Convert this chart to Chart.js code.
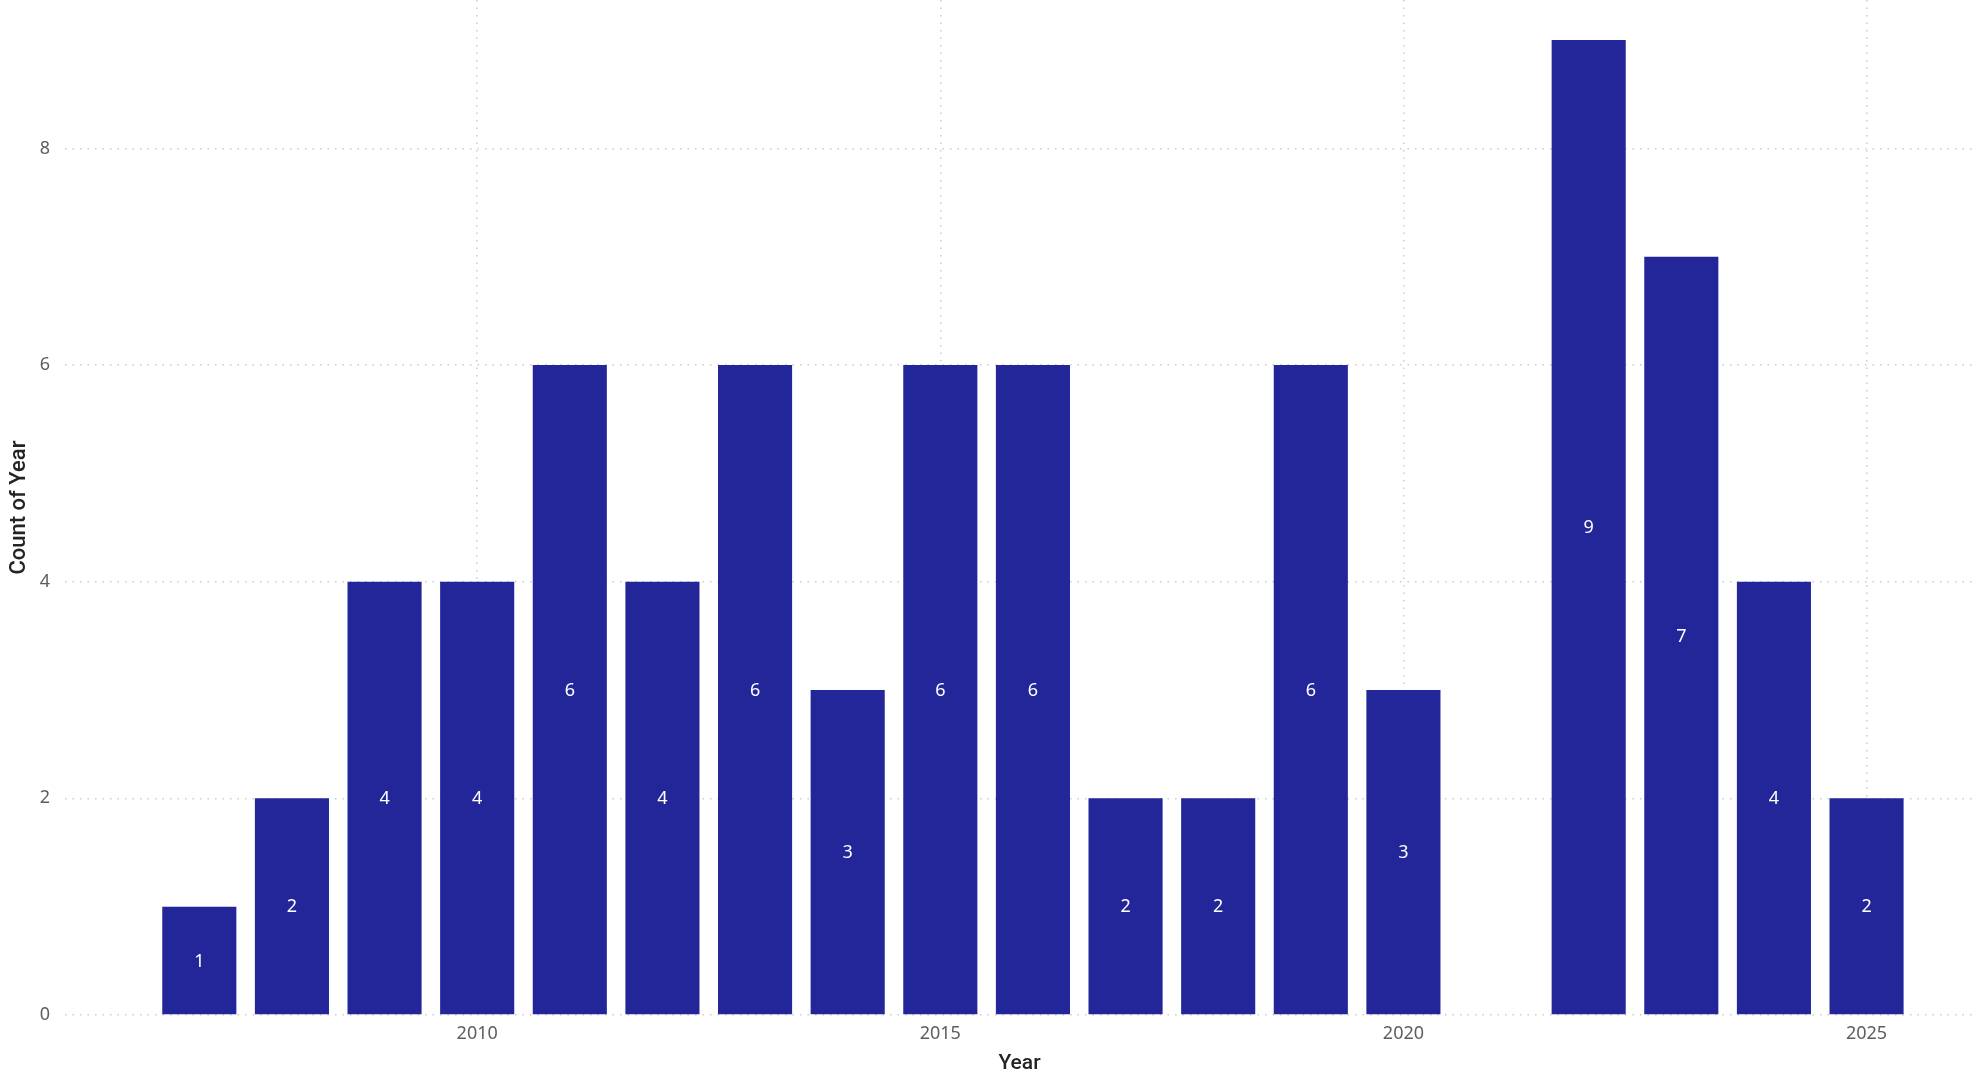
<!DOCTYPE html>
<html lang="en">
<head>
    <meta charset="UTF-8">
    <title>Count of Year</title>
    <script src="https://cdn.jsdelivr.net/npm/chart.js"></script>
    <style>
        html, body {
            margin: 0;
            padding: 0;
            background: #ffffff;
        }

        .chart-box {
            position: relative;
            width: 1980px;
            height: 1078px;
        }
    </style>
</head>
<body>
    <div class="chart-box">
        <canvas id="year_chart"></canvas>
    </div>

    <script>
        // values (2021 has no bar)
        const years = [2007, 2008, 2009, 2010, 2011, 2012, 2013, 2014, 2015, 2016, 2017, 2018, 2019, 2020, 2022, 2023, 2024, 2025];
        const counts = [1, 2, 4, 4, 6, 4, 6, 3, 6, 6, 2, 2, 6, 3, 9, 7, 4, 2];
        const xTicks = [2010, 2015, 2020, 2025];
        const yTicks = [0, 2, 4, 6, 8];

        const barColor = '#232698';
        const gridColor = '#cccccc';
        const tickColor = '#605e5c';
        const titleColor = '#252423';

        // white value labels in the middle of each bar
        const barLabels = {
            id: 'barLabels',
            afterDatasetsDraw(chart) {
                const ctx = chart.ctx;
                const meta = chart.getDatasetMeta(0);
                ctx.save();
                ctx.fillStyle = '#ffffff';
                ctx.font = '18px "Noto Sans"';
                ctx.textAlign = 'center';
                ctx.textBaseline = 'middle';
                meta.data.forEach((bar, i) => {
                    ctx.fillText(String(counts[i]), bar.x, (bar.y + bar.base) / 2 + 1);
                });
                ctx.restore();
            }
        };

        const ctx = document.getElementById('year_chart').getContext('2d');
        new Chart(ctx, {
            type: 'bar',
            data: {
                datasets: [{
                    label: 'Count of Year',
                    data: years.map((y, i) => ({ x: y, y: counts[i] })),
                    backgroundColor: barColor,
                    barPercentage: 0.8,
                    categoryPercentage: 1
                }]
            },
            options: {
                responsive: true,
                maintainAspectRatio: false,
                animation: false,
                layout: { padding: { left: 0, right: 6, top: 0, bottom: 0 } },
                plugins: {
                    legend: { display: false },
                    tooltip: { enabled: false }
                },
                scales: {
                    x: {
                        type: 'linear',
                        min: 2005.55,
                        max: 2026.16,
                        offset: false,
                        afterBuildTicks: (scale) => { scale.ticks = xTicks.map(v => ({ value: v })); },
                        afterFit: (scale) => { scale.height = 63; },
                        ticks: {
                            color: tickColor,
                            font: { family: '"Noto Sans"', size: 18 },
                            padding: 8,
                            maxRotation: 0,
                            callback: (v) => String(v)
                        },
                        grid: { color: gridColor, lineWidth: 1.5, drawTicks: false, offset: false },
                        border: { display: false, dash: [1.5, 6] },
                        title: {
                            display: true,
                            text: 'Year',
                            color: titleColor,
                            font: { family: 'Roboto', size: 21, weight: '500' },
                            padding: { top: 2, bottom: 2 }
                        }
                    },
                    y: {
                        min: 0,
                        max: 9.37,
                        afterBuildTicks: (scale) => { scale.ticks = yTicks.map(v => ({ value: v })); },
                        afterFit: (scale) => {
                            scale.width = 65;
                            scale.paddingTop = 0;
                            scale.paddingBottom = 0;
                        },
                        ticks: {
                            color: tickColor,
                            font: { family: '"Noto Sans"', size: 18 },
                            padding: 15
                        },
                        grid: { color: gridColor, lineWidth: 1.5, drawTicks: false },
                        border: { display: false, dash: [1.5, 6] },
                        title: {
                            display: true,
                            text: 'Count of Year',
                            color: titleColor,
                            font: { family: 'Roboto', size: 22, weight: '500' },
                            padding: { top: 6, bottom: 4 }
                        }
                    }
                }
            },
            plugins: [barLabels]
        });
    </script>
</body>
</html>
